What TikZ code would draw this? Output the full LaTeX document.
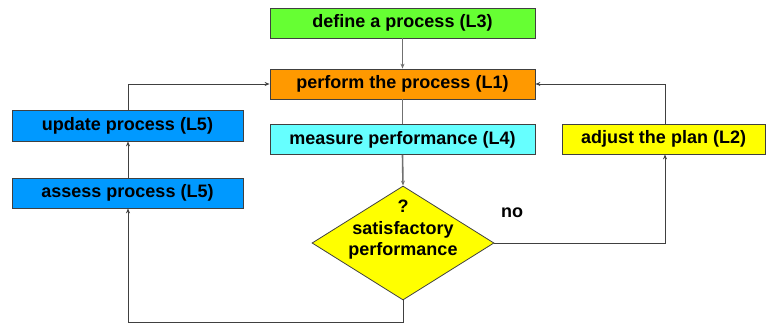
\documentclass[tikz,border=0pt]{standalone}
\usepackage{fontspec}
\setmainfont{Liberation Sans}
\usetikzlibrary{shapes.geometric,arrows.meta}
\definecolor{cgreen}{HTML}{66FF33}
\definecolor{corange}{HTML}{FF9900}
\definecolor{ccyan}{HTML}{66FFFF}
\definecolor{cblue}{HTML}{0099FF}
\definecolor{cyel}{HTML}{FFFF00}
\definecolor{cline}{HTML}{404040}
\definecolor{cgline}{HTML}{707070}
\tikzset{
  txt/.style={font=\fontsize{18}{21.5}\selectfont\bfseries},
  box/.style={draw=cline, line width=0.8pt, minimum height=30pt, inner sep=0pt, txt, anchor=center},
  conn/.style={draw=cline, line width=0.9pt, -{Stealth[length=5pt,width=4pt]}},
  gconn/.style={draw=cgline, line width=1.6pt, -{Stealth[length=5pt,width=4pt]}},
}
\begin{document}
\begin{tikzpicture}[x=1pt,y=-1pt]
\useasboundingbox (0,0) rectangle (766,326);
\node[box, fill=cgreen, minimum width=265pt] (def) at (402.5,23) {define a process (L3)};
\node[box, fill=corange, minimum width=265pt] (perf) at (402.5,84) {perform the process (L1)};
\node[box, fill=ccyan, minimum width=265pt] (meas) at (402.5,139.5) {measure performance (L4)};
\node[box, fill=cblue, minimum width=231pt, minimum height=31pt] (upd) at (127.5,125.5) {update process (L5)};
\node[box, fill=cblue, minimum width=231pt] (ass) at (127.5,193) {assess process (L5)};
\node[box, fill=cyel, minimum width=203pt] (adj) at (663.5,139) {adjust the plan (L2)};
\node[diamond, draw=cline, line width=0.8pt, fill=cyel, minimum width=182pt, minimum height=114pt, inner sep=0pt, aspect=1.6] (dia) at (403,243) {};
\node[txt, align=center] (diat) at (403,230) {?\\satisfactory\\performance};
\node[txt] (no) at (512,213) {no};
\coordinate (b1) at (403,322);
\coordinate (b2) at (128,322);
\coordinate (u1) at (128,84);
\coordinate (r1) at (665,243);
\coordinate (r2) at (665,84);
\draw[gconn] (def.south) -- (perf.north);
\draw[cgline, line width=1.6pt] (perf.south) -- (meas.north);
\draw[gconn] (meas.south) -- (dia.north);
\draw[conn] (dia.south) -- (b1) -- (b2) -- (ass.south -| b2);
\draw[conn] (ass.north -| b2) -- (upd.south -| b2);
\draw[conn] (upd.north -| u1) -- (u1) -- (perf.west);
\draw[conn] (dia.east) -- (r1) -- (adj.south -| r1);
\draw[conn] (adj.north -| r2) -- (r2) -- (perf.east);
\end{tikzpicture}
\end{document}
